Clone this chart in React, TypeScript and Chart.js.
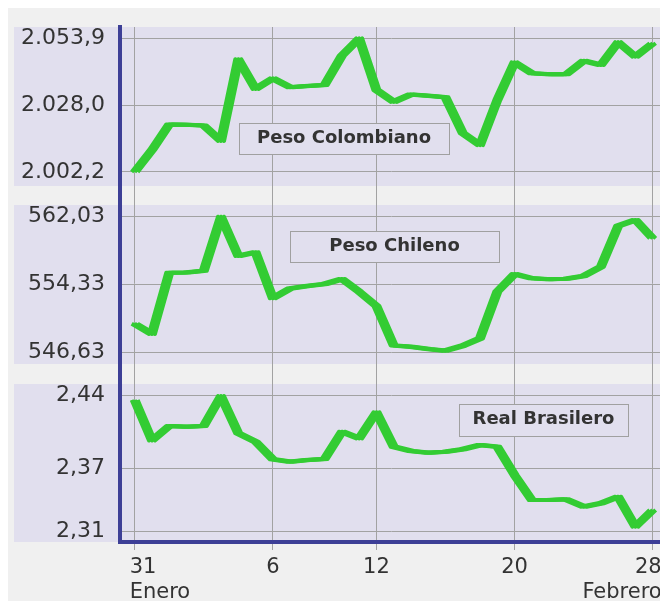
import { useEffect, useRef } from "react";
import { Chart, registerables } from "chart.js";

Chart.register(...registerables);

// ---- data ----
const seriesNames = ["Peso Colombiano", "Peso Chileno", "Real Brasilero"];

const colombiano = [
  2002.2, 2010.7, 2020.6, 2020.5, 2020.2, 2014.2, 2045.8, 2034.3, 2038.4, 2035.0,
  2035.5, 2035.8, 2047.2, 2053.9, 2033.9, 2029.3, 2032.2, 2031.7, 2031.1, 2017.2,
  2012.6, 2030.0, 2044.6, 2040.4, 2040.0, 2040.0, 2045.2, 2043.6, 2052.4, 2046.8,
  2052.0,
];

const chileno = [
  549.9, 548.75, 555.69, 555.7, 555.9, 562.03, 557.58, 558.0, 552.79, 553.9,
  554.18, 554.41, 554.98, 553.54, 551.92, 547.45, 547.31, 547.05, 546.86, 547.42,
  548.26, 553.54, 555.54, 555.05, 554.94, 555.0, 555.32, 556.37, 560.98, 561.66,
  559.58,
];

const brasilero = [
  2.4353, 2.3967, 2.4105, 2.4099, 2.4105, 2.439, 2.4036, 2.3956, 2.3789, 2.3766,
  2.3782, 2.3791, 2.4051, 2.3988, 2.4236, 2.3908, 2.3867, 2.3851, 2.3861, 2.3884,
  2.3925, 2.3908, 2.3639, 2.3401, 2.3401, 2.3408, 2.3338, 2.337, 2.3433, 2.3148,
  2.3306,
];

const xTickPositions = [0, 8, 14, 22, 30];
const xTickLabels: string[][] = [["31", "Enero"], ["6"], ["12"], ["20"], ["28", "Febrero"]];

const colTicks = [2002.2, 2028.0, 2053.9];
const colTickLabels = ["2.002,2", "2.028,0", "2.053,9"];
const chiTicks = [546.63, 554.33, 562.03];
const chiTickLabels = ["546,63", "554,33", "562,03"];
const braTicks = [2.31, 2.37, 2.44];
const braTickLabels = ["2,31", "2,37", "2,44"];

// ---- styles ----
const FONT = "'DejaVu Sans', Verdana, sans-serif";
const GREEN = "#33cc33";
const LAVENDER = "#e1dfee";
const PAGE_BG = "#f0f0f0";
const BLUE = "#3d3f96";
const GRID = "#a2a2a2";
const TEXT = "#333333";

const panelPlugin = {
  id: "panels",
  beforeDraw(chart: any) {
    const { ctx, chartArea } = chart;
    ctx.save();
    ctx.fillStyle = PAGE_BG;
    ctx.fillRect(0, 0, chart.width, chart.height);
    const panels = [
      { id: "yCO", gapTop: 0, gapBottom: 9.5 },
      { id: "yCL", gapTop: 9.5, gapBottom: 10 },
      { id: "yBR", gapTop: 10, gapBottom: 0 },
    ];
    ctx.fillStyle = LAVENDER;
    for (const p of panels) {
      const s = chart.scales[p.id];
      const top = s.top + p.gapTop;
      const bottom = s.bottom - p.gapBottom;
      ctx.fillRect(6, top, chartArea.right - 6, bottom - top);
    }
    ctx.restore();
  },
  afterDatasetsDraw(chart: any) {
    const ctx = chart.ctx;
    const H = 3;
    chart.data.datasets.forEach((ds: any, di: number) => {
      const pts = chart.getDatasetMeta(di).data;
      ctx.save();
      ctx.fillStyle = ds.borderColor;
      ctx.strokeStyle = ds.borderColor;
      ctx.lineWidth = 4;
      ctx.lineJoin = "round";
      for (let k = 0; k < pts.length - 1; k++) {
        const a = pts[k];
        const b = pts[k + 1];
        ctx.beginPath();
        ctx.moveTo(a.x - H, a.y);
        ctx.lineTo(b.x - H, b.y);
        ctx.lineTo(b.x + H, b.y);
        ctx.lineTo(a.x + H, a.y);
        ctx.closePath();
        ctx.fill();
      }
      for (const off of [-H, H]) {
        ctx.beginPath();
        pts.forEach((p: any, i: number) => {
          if (i === 0) ctx.moveTo(p.x + off, p.y);
          else ctx.lineTo(p.x + off, p.y);
        });
        ctx.stroke();
      }
      ctx.restore();
    });

    // series name boxes
    const boxes = [
      { text: seriesNames[0], x: 231, y: 115, w: 210, h: 31 },
      { text: seriesNames[1], x: 282, y: 223, w: 209, h: 31 },
      { text: seriesNames[2], x: 451, y: 396, w: 169, h: 32 },
    ];
    ctx.save();
    for (const b of boxes) {
      ctx.fillStyle = LAVENDER;
      ctx.fillRect(b.x, b.y, b.w, b.h);
      ctx.strokeStyle = "#a0a0a0";
      ctx.lineWidth = 1;
      ctx.strokeRect(b.x + 0.5, b.y + 0.5, b.w, b.h);
      ctx.fillStyle = TEXT;
      ctx.font = `bold 18px ${FONT}`;
      ctx.textAlign = "center";
      ctx.textBaseline = "alphabetic";
      ctx.fillText(b.text, b.x + b.w / 2, b.y + 20);
    }
    ctx.restore();
  },
  afterDraw(chart: any) {
    const { ctx, chartArea } = chart;
    const xs = chart.scales.x;
    ctx.save();
    ctx.fillStyle = TEXT;
    ctx.font = `21px ${FONT}`;
    ctx.textBaseline = "alphabetic";
    const n = xTickPositions.length;
    xTickPositions.forEach((v, i) => {
      const px = xs.getPixelForValue(v);
      let x = px;
      if (i === 0) {
        ctx.textAlign = "left";
        x = px - 5;
      } else if (i === n - 1) {
        ctx.textAlign = "right";
        x = px + 9;
      } else {
        ctx.textAlign = "center";
      }
      xTickLabels[i].forEach((line, li) => {
        ctx.fillText(line, x, chartArea.bottom + 31 + li * 25);
      });
    });
    ctx.restore();
  },
};

function yScale(
  min: number,
  max: number,
  weight: number,
  ticks: number[],
  labels: string[]
) {
  return {
    type: "linear",
    position: "left",
    stack: "panels",
    stackWeight: weight,
    min,
    max,
    afterBuildTicks: (s: any) => {
      s.ticks = ticks.map((v) => ({ value: v }));
    },
    afterFit: (s: any) => {
      s.width = 112;
      s.paddingTop = 0;
      s.paddingBottom = 0;
    },
    ticks: {
      autoSkip: false,
      padding: 15,
      color: TEXT,
      font: { family: FONT, size: 22 },
      callback: (_v: any, i: number) => labels[i],
    },
    grid: { color: GRID, lineWidth: 1, drawTicks: false },
    border: { color: BLUE, width: 4 },
  };
}

export default function App() {
  const ref = useRef<HTMLCanvasElement | null>(null);

  useEffect(() => {
    document.documentElement.style.overflow = "hidden";
    const canvas = ref.current;
    if (!canvas) return;
    const mk = (vals: number[]) => vals.map((v, i) => ({ x: i, y: v }));
    const chart = new Chart(canvas, {
      type: "line",
      data: {
        datasets: [
          { label: seriesNames[0], data: mk(colombiano), yAxisID: "yCO", borderColor: GREEN, borderWidth: 4, pointRadius: 0, fill: false, tension: 0, borderJoinStyle: "round" },
          { label: seriesNames[1], data: mk(chileno), yAxisID: "yCL", borderColor: GREEN, borderWidth: 4, pointRadius: 0, fill: false, tension: 0, borderJoinStyle: "round" },
          { label: seriesNames[2], data: mk(brasilero), yAxisID: "yBR", borderColor: GREEN, borderWidth: 4, pointRadius: 0, fill: false, tension: 0, borderJoinStyle: "round" },
        ],
      } as any,
      options: {
        animation: false,
        responsive: false,
        devicePixelRatio: 1,
        events: [],
        layout: { padding: { top: 19, right: 7, bottom: 0, left: 0 } },
        plugins: { legend: { display: false }, tooltip: { enabled: false } },
        scales: {
          x: {
            type: "linear",
            min: -0.851,
            max: 30.481,
            afterBuildTicks: (s: any) => {
              s.ticks = xTickPositions.map((v) => ({ value: v }));
            },
            afterFit: (s: any) => {
              s.height = 59;
              s.paddingLeft = 0;
              s.paddingRight = 0;
            },
            ticks: { display: false, autoSkip: false },
            grid: { color: GRID, lineWidth: 1, drawTicks: true, tickLength: 8 },
            border: { color: BLUE, width: 4 },
          },
          yBR: yScale(2.3002, 2.46, 168, braTicks, braTickLabels),
          yCL: yScale(544.22, 564.43, 178.5, chiTicks, chiTickLabels),
          yCO: yScale(1993.11, 2058.27, 168.5, colTicks, colTickLabels),
        } as any,
      },
      plugins: [panelPlugin],
    });
    return () => chart.destroy();
  }, []);

  return (
    <div style={{ width: 660, height: 593, background: PAGE_BG }}>
      <canvas ref={ref} width={660} height={593} style={{ display: "block" }} />
    </div>
  );
}
